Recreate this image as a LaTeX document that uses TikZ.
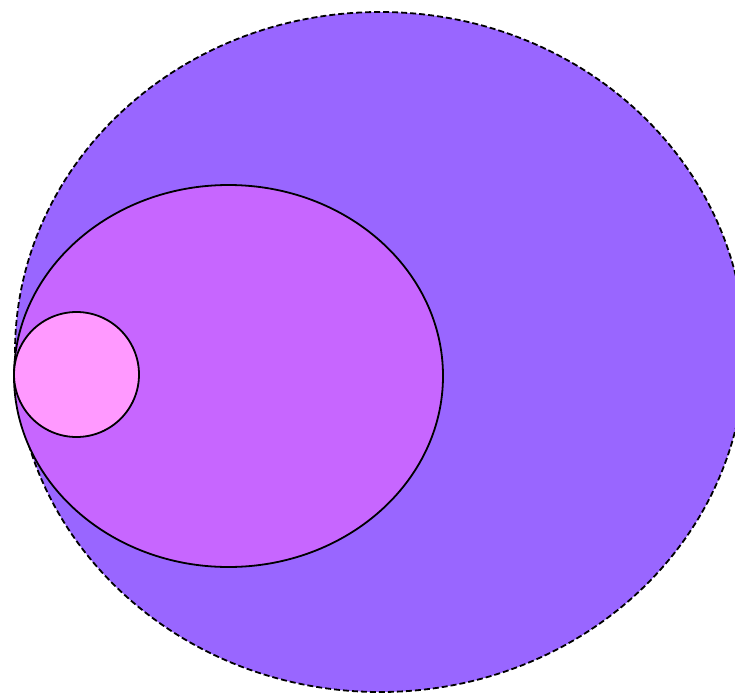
\documentclass[tikz,border=0pt]{standalone}
\definecolor{outerc}{RGB}{153,102,255}
\definecolor{midc}{RGB}{199,102,255}
\definecolor{smallc}{RGB}{255,153,255}
\begin{document}
\begin{tikzpicture}[x=1pt,y=-1pt,
  setline/.style={draw=black,line width=1.8pt}]
\useasboundingbox (0,0) rectangle (735,693);
\clip (0,0) rectangle (735,693);
\path[setline,fill=outerc,dash pattern=on 6pt off 3pt] (380,352) ellipse [x radius=365,y radius=340];
\path[setline,fill=midc] (228.5,376) ellipse [x radius=214.5,y radius=191];
\path[setline,fill=smallc] (76.5,374.5) circle [radius=62.5];
\end{tikzpicture}
\end{document}
